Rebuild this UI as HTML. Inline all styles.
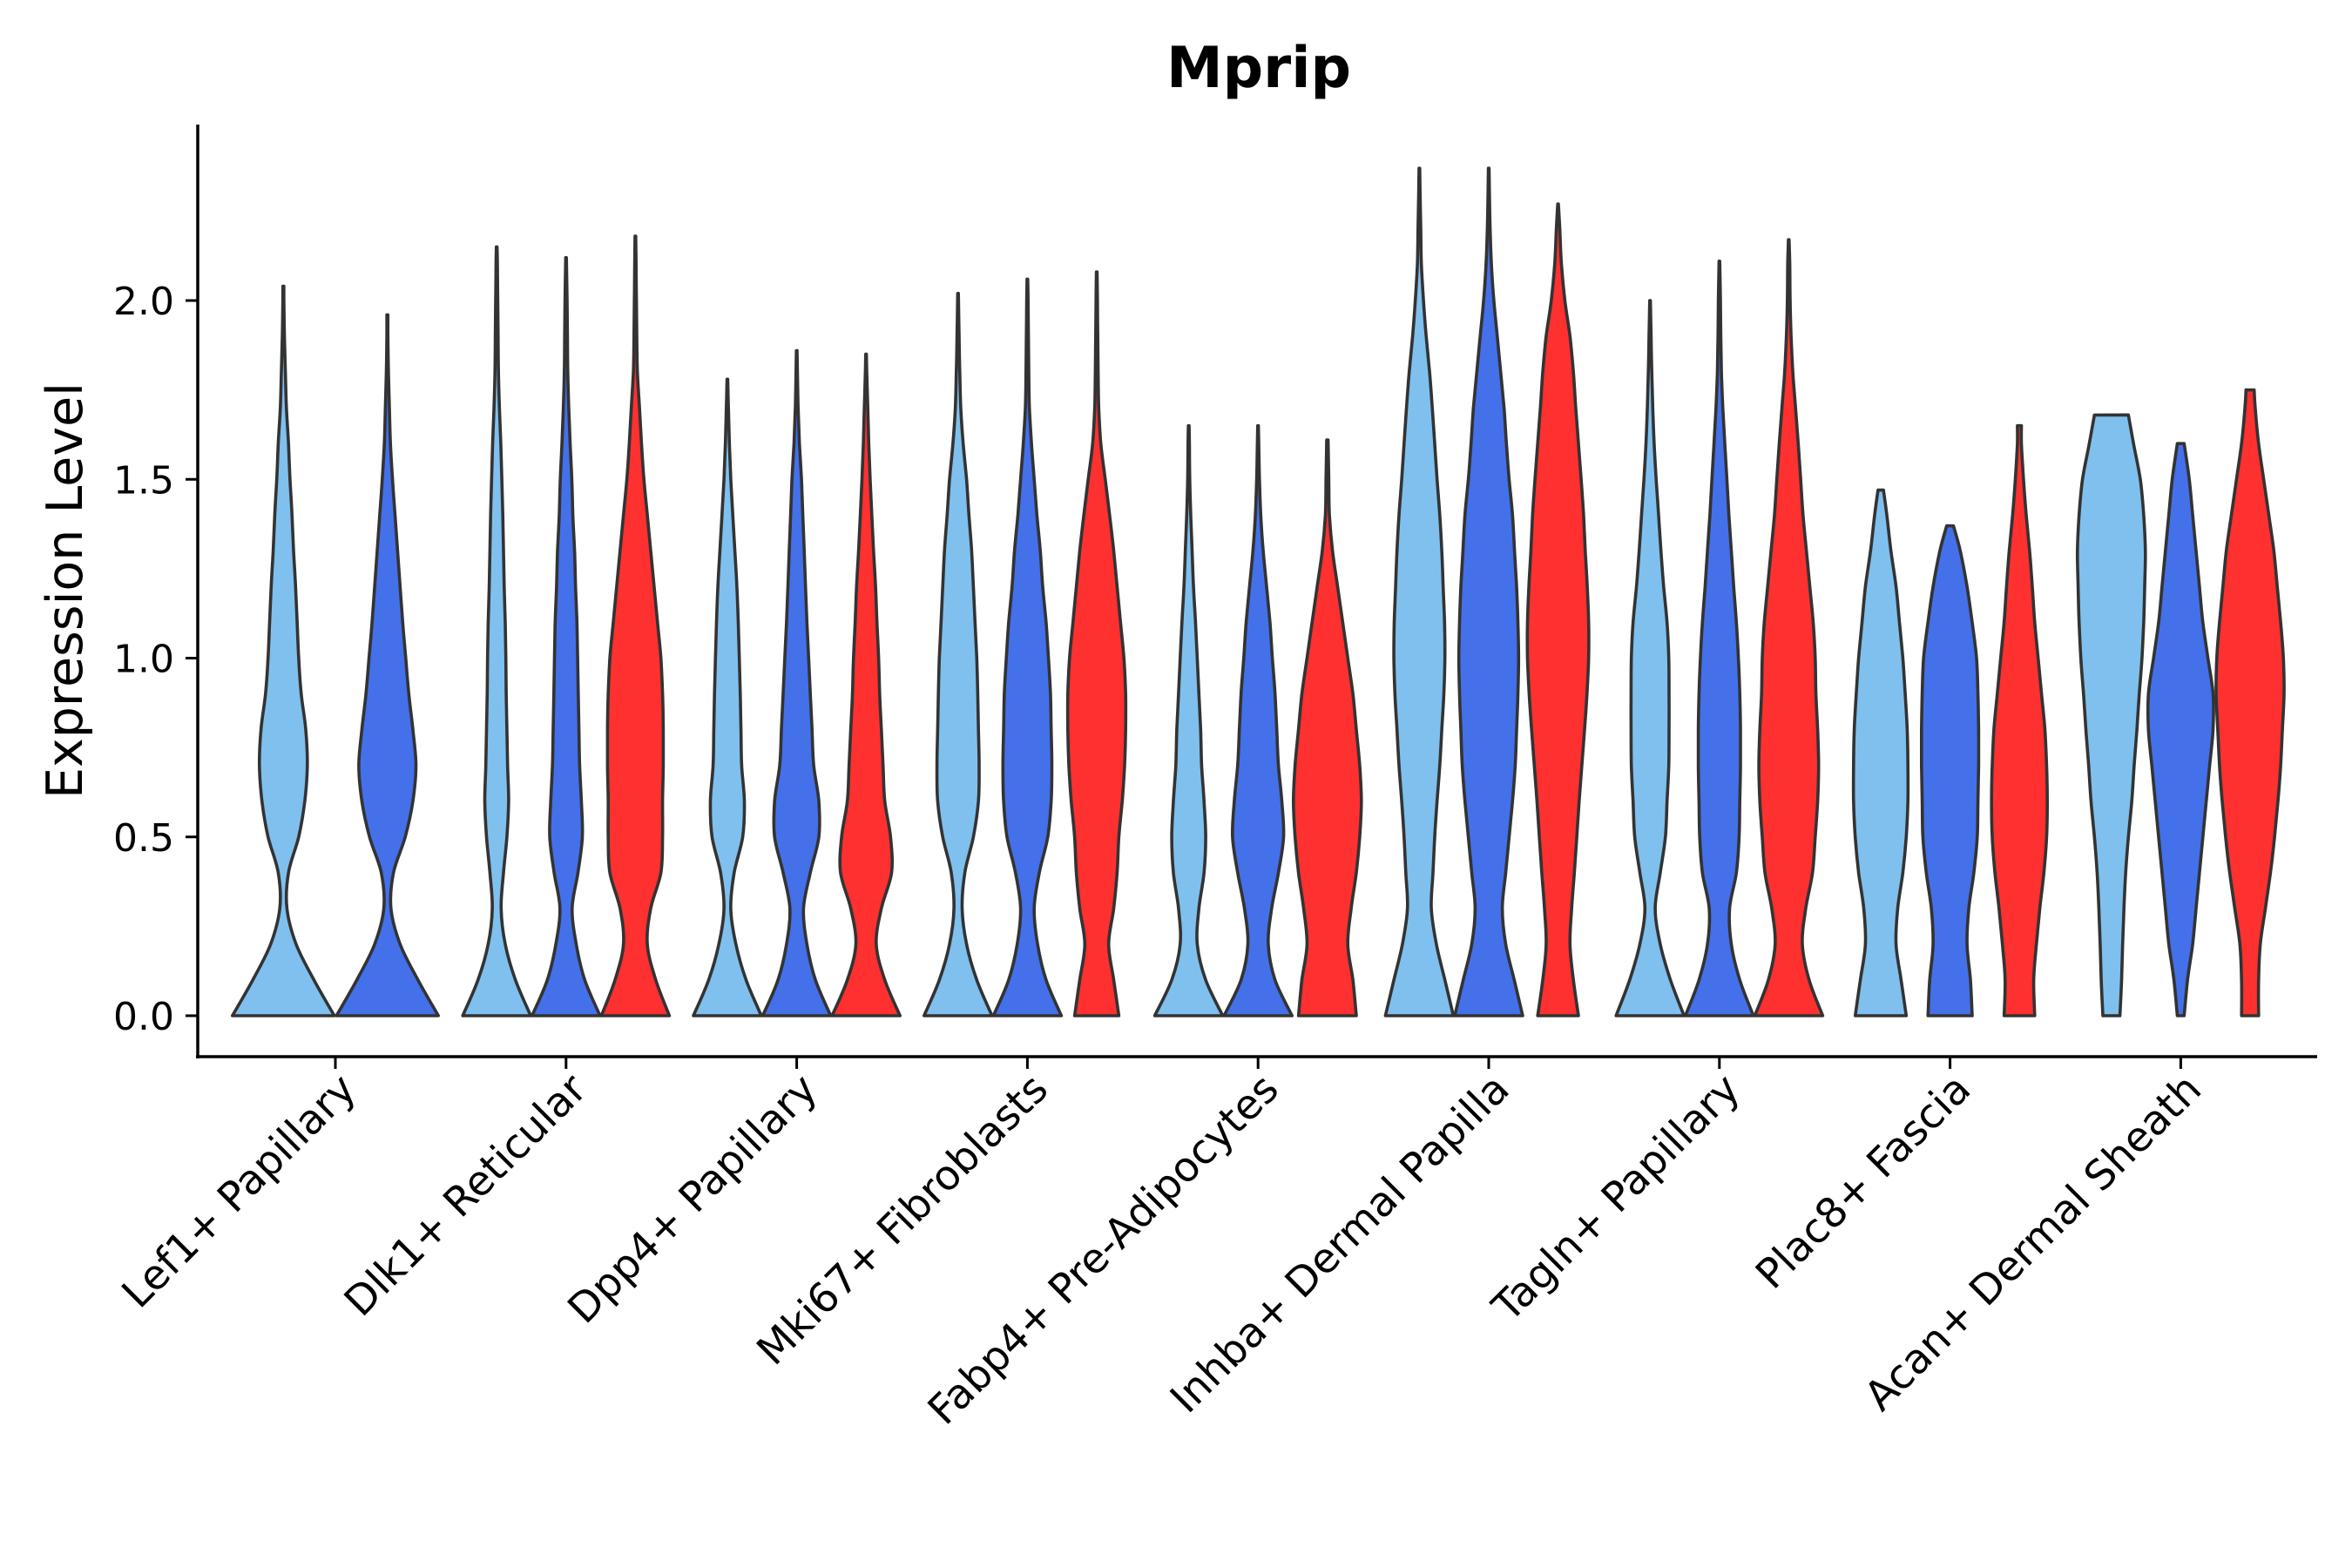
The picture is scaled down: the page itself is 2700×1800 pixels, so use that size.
<!DOCTYPE html>
<html><head><meta charset="utf-8"><style>
html,body{margin:0;padding:0;background:#fff;}
svg{display:block;font-family:"DejaVu Sans","Liberation Sans",sans-serif;}
</style></head><body>
<svg id="chart" width="2700" height="1800" viewBox="0 0 2700 1800" xmlns="http://www.w3.org/2000/svg">
<text x="1445" y="100" text-anchor="middle" font-size="65" font-weight="bold">Mprip</text>
<text transform="translate(94,678) rotate(-90)" text-anchor="middle" font-size="57">Expression Level</text>
<g id="axes"></g>
<g id="violins"></g>
</svg>
<script>
const categories = ["Lef1+ Papillary","Dlk1+ Reticular","Dpp4+ Papillary","Mki67+ Fibroblasts","Fabp4+ Pre-Adipocytes","Inhba+ Dermal Papilla","Tagln+ Papillary","Plac8+ Fascia","Acan+ Dermal Sheath"];
const yTicks = [0, 0.5, 1.0, 1.5, 2.0];
const yTickLabels = ["0.0","0.5","1.0","1.5","2.0"];
const seriesNames = ["light","blue","red"];
const seriesColors = ["#7FC0EE","#4470EA","#FF3030"];
const present = [[0,1],[0,1,2],[0,1,2],[0,1,2],[0,1,2],[0,1,2],[0,1,2],[0,1,2],[0,1,2]];
const maxVals = [
 [2.04,1.96],[2.15,2.12,2.18],[1.78,1.86,1.85],[2.02,2.06,2.08],[1.65,1.65,1.61],
 [2.37,2.37,2.27],[2.00,2.11,2.17],[1.47,1.37,1.65],[1.68,1.60,1.75]];
const topWidths = [
 [0.01,0.01],[0.01,0.01,0.01],[0.01,0.01,0.01],[0.01,0.01,0.01],[0.01,0.01,0.02],
 [0.01,0.01,0.01],[0.01,0.01,0.01],[0.08,0.1,0.06],[0.5,0.1,0.12]];
const densities = [
 [[1,.6,.25,.07,.1,.3,.42,.47,.44,.35,.3,.27,.24,.2,.17,.13,.1,.06,.04,.02,.01],
  [1,.6,.25,.07,.12,.35,.5,.56,.5,.42,.36,.3,.25,.2,.15,.1,.06,.04,.02,.01]],
 [[1,.55,.25,.13,.2,.3,.35,.32,.3,.28,.27,.25,.22,.2,.18,.15,.12,.08,.05,.04,.03,.02],
  [1,.55,.3,.18,.35,.48,.45,.4,.38,.36,.34,.32,.28,.25,.2,.17,.12,.08,.05,.04,.03,.02],
  [1,.6,.35,.45,.75,.8,.8,.82,.82,.8,.75,.65,.55,.45,.35,.25,.18,.12,.06,.04,.03,.02]],
 [[1,.55,.25,.1,.2,.45,.5,.42,.4,.38,.35,.32,.28,.22,.16,.1,.06,.03],
  [1,.55,.3,.2,.4,.65,.65,.5,.45,.4,.35,.3,.26,.22,.18,.14,.08,.04,.02],
  [1,.55,.3,.45,.75,.72,.55,.5,.45,.4,.37,.32,.28,.22,.17,.12,.08,.05,.02]],
 [[1,.55,.25,.12,.2,.45,.6,.62,.6,.58,.55,.5,.45,.4,.32,.25,.15,.08,.05,.03,.02],
  [1,.55,.3,.2,.35,.6,.7,.72,.7,.68,.62,.55,.45,.38,.28,.2,.12,.06,.04,.03,.02],
  [.65,.5,.35,.5,.6,.65,.75,.82,.85,.85,.8,.7,.6,.5,.38,.25,.12,.06,.04,.03,.02]],
 [[1,.5,.25,.3,.45,.5,.45,.38,.35,.3,.25,.2,.14,.1,.06,.03,.02],
  [1,.5,.3,.4,.6,.75,.7,.6,.55,.5,.42,.35,.25,.15,.08,.04,.02],
  [.85,.75,.6,.7,.85,.95,1,.95,.85,.75,.6,.45,.3,.15,.06,.04,.03]],
 [[1,.75,.5,.35,.4,.45,.52,.6,.66,.72,.75,.74,.7,.66,.6,.52,.45,.38,.3,.2,.12,.06,.04,.02],
  [1,.75,.5,.4,.5,.6,.7,.78,.82,.86,.88,.86,.82,.76,.7,.6,.52,.45,.35,.25,.15,.08,.04,.02],
  [.6,.45,.35,.4,.48,.55,.62,.7,.78,.85,.9,.9,.86,.8,.75,.68,.6,.52,.45,.35,.2,.1,.05]],
 [[1,.6,.3,.15,.3,.45,.5,.55,.56,.56,.55,.5,.4,.32,.25,.18,.12,.08,.05,.03,.02],
  [1,.6,.35,.3,.5,.58,.6,.62,.62,.6,.56,.5,.42,.35,.28,.22,.16,.1,.06,.04,.03,.02],
  [1,.6,.4,.5,.7,.78,.85,.88,.85,.8,.78,.72,.62,.52,.42,.35,.28,.2,.12,.07,.04,.03]],
 [[.75,.6,.45,.5,.65,.75,.8,.8,.78,.72,.65,.55,.45,.3,.18],
  [.65,.6,.5,.55,.7,.8,.82,.84,.84,.82,.78,.65,.5,.3],
  [.45,.42,.5,.6,.72,.8,.82,.8,.75,.65,.55,.45,.38,.3,.2,.12,.06]],
 [[.25,.3,.33,.37,.42,.5,.6,.67,.75,.82,.9,.95,.98,1,.95,.85,.65],
  [.1,.2,.35,.45,.55,.65,.75,.85,.95,.95,.8,.65,.55,.45,.35,.25],
  [.25,.25,.3,.45,.6,.72,.82,.9,.95,1,.98,.9,.8,.7,.55,.4,.25,.15]]];

const NS = "http://www.w3.org/2000/svg";
const plotLeft = 227, plotRight = 2660, axisY = 1213, axisTop = 143;
const firstCenter = 385, step = 264.8;
function yScale(v){ return 1166 - v*410.5; }
function xScale(i){ return firstCenter + i*step; }

const axes = document.getElementById('axes');
function mk(tag, attrs, parent){
  const e = document.createElementNS(NS, tag);
  for (const k in attrs) e.setAttribute(k, attrs[k]);
  parent.appendChild(e); return e;
}
let l = mk('line',{x1:plotLeft,y1:axisTop,x2:plotLeft,y2:axisY+2,stroke:'#000','stroke-width':3.5},axes);


l = mk('line',{x1:plotLeft-2,y1:axisY,x2:plotRight,y2:axisY,stroke:'#000','stroke-width':3.5},axes);


yTicks.forEach((v,i)=>{
  const t = mk('line',{x1:plotLeft-14,y1:yScale(v),x2:plotLeft,y2:yScale(v),stroke:'#000','stroke-width':3},axes);
  
  
  const tx = mk('text',{x:plotLeft-27,y:yScale(v)+16,'text-anchor':'end','font-size':44},axes);
  tx.textContent = yTickLabels[i];
  
  
});
categories.forEach((c,i)=>{
  const x = xScale(i);
  const t = mk('line',{x1:x,y1:axisY,x2:x,y2:axisY+14,stroke:'#000','stroke-width':3},axes);
  
  
  const tx = mk('text',{transform:`translate(${x+26},${axisY+40}) rotate(-45)`,'text-anchor':'end','font-size':47},axes);
  tx.textContent = c;
  
  
});

function smoothPath(pts){
  let d = `M${pts[0][0]},${pts[0][1]}`;
  for (let i=0;i<pts.length-1;i++){
    const p0=pts[Math.max(0,i-1)], p1=pts[i], p2=pts[i+1], p3=pts[Math.min(pts.length-1,i+2)];
    const c1=[p1[0]+(p2[0]-p0[0])/6, p1[1]+(p2[1]-p0[1])/6];
    const c2=[p2[0]-(p3[0]-p1[0])/6, p2[1]-(p3[1]-p1[1])/6];
    d += ` C${c1[0].toFixed(1)},${c1[1].toFixed(1)} ${c2[0].toFixed(1)},${c2[1].toFixed(1)} ${p2[0].toFixed(1)},${p2[1].toFixed(1)}`;
  }
  return d;
}
const vg = document.getElementById('violins');
categories.forEach((c,i)=>{
  const ser = present[i];
  const n = ser.length;
  const dodge = n===2 ? 119.4 : 79.6;
  const half = dodge/2*0.98;
  ser.forEach((s,j)=>{
    const cx = xScale(i) + (j-(n-1)/2)*dodge;
    const dens = densities[i][j];
    const mx = maxVals[i][j];
    const prof = dens.map((w,k)=>[k*0.1,w]).filter(p=>p[0] < mx-0.02);
    prof.push([mx, topWidths[i][j]]);
    const left = prof.map(p=>[cx - p[1]*half, yScale(p[0])]);
    const right = prof.slice().reverse().map(p=>[cx + p[1]*half, yScale(p[0])]);
    let d = smoothPath(left);
    const rd = smoothPath(right);
    d += ' L' + rd.slice(1) + ' Z';
    const path = mk('path',{d:d,fill:seriesColors[s],stroke:'#333','stroke-width':3.6,'stroke-linejoin':'round'},vg);
    
    
  });
});
</script>
</body></html>
